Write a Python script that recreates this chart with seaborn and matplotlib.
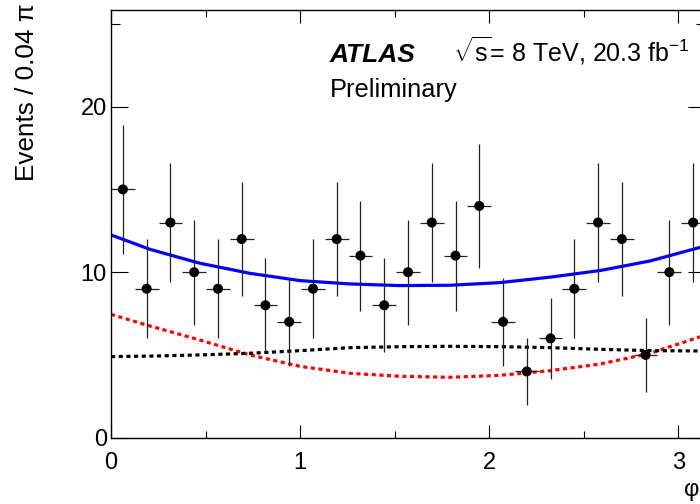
import numpy as np
import pandas as pd
import matplotlib
matplotlib.use("Agg")
import matplotlib.pyplot as plt
from matplotlib.ticker import FixedLocator
import seaborn as sns

# ---------------- data ----------------
bin_width = 0.04 * np.pi
n_bins = 25
bin_centers = (np.arange(n_bins) + 0.5) * bin_width
events = [15, 9, 13, 10, 9, 12, 8, 7, 9, 12, 11, 8, 10, 13, 11, 14, 7, 4, 6, 9, 13, 12, 5, 10, 13]
event_err = np.sqrt(events)

curve_x = [0.0, 0.206, 0.47, 0.735, 1.0, 1.265, 1.529, 1.794, 2.058, 2.323, 2.587, 2.852, 3.116, np.pi]
total_fit = [12.25, 11.38, 10.54, 9.93, 9.49, 9.29, 9.19, 9.21, 9.37, 9.70, 10.10, 10.68, 11.50, 11.60]
red_comp = [7.45, 6.75, 5.90, 5.00, 4.31, 3.89, 3.71, 3.65, 3.77, 4.05, 4.45, 5.10, 6.10, 6.25]
black_comp = [4.90, 4.93, 5.00, 5.10, 5.26, 5.44, 5.50, 5.52, 5.50, 5.44, 5.34, 5.26, 5.24, 5.23]

x_ticks = [0, 1, 2, 3]
y_ticks = [0, 10, 20]

# ---------------- style ----------------
sns.set_theme(style="ticks")
plt.rcParams["font.family"] = ["Liberation Sans", "DejaVu Sans"]
plt.rcParams["text.color"] = "black"
plt.rcParams["axes.labelcolor"] = "black"
plt.rcParams["xtick.color"] = "black"
plt.rcParams["ytick.color"] = "black"
plt.rcParams["mathtext.fontset"] = "custom"
plt.rcParams["mathtext.rm"] = "Liberation Sans"
plt.rcParams["mathtext.it"] = "Liberation Sans:italic"
plt.rcParams["mathtext.bf"] = "Liberation Sans:bold"

fig = plt.figure(figsize=(7.0, 5.04), dpi=100)
ax = fig.add_axes([111 / 700, 1 - 437.7 / 504, (705 - 111) / 700, (437.7 - 10) / 504])

df_curves = pd.DataFrame({"x": curve_x, "total": total_fit, "red": red_comp, "black": black_comp})
sns.lineplot(data=df_curves, x="x", y="total", ax=ax, color="#0000ff", lw=2.3, sort=False)
sns.lineplot(data=df_curves, x="x", y="red", ax=ax, color="#ff0000", lw=2.3, sort=False)
sns.lineplot(data=df_curves, x="x", y="black", ax=ax, color="black", lw=2.3, sort=False)
ax.lines[1].set_dashes([1.3, 1.1])
ax.lines[2].set_dashes([1.3, 1.1])

ax.errorbar(bin_centers, events, yerr=event_err, xerr=bin_width / 2, fmt="none",
            ecolor="#222222", elinewidth=0.9, capsize=0, zorder=3)
df_pts = pd.DataFrame({"x": bin_centers, "y": events})
sns.scatterplot(data=df_pts, x="x", y="y", ax=ax, color="black", s=52, edgecolor="none",
                zorder=4)

ax.set_xlim(0, np.pi)
ax.set_ylim(0, 25.84)
ax.set_xlabel("")
ax.set_ylabel("")
ax.xaxis.set_major_locator(FixedLocator(x_ticks))
ax.xaxis.set_minor_locator(FixedLocator([0.5, 1.5, 2.5]))
ax.yaxis.set_major_locator(FixedLocator(y_ticks))
ax.yaxis.set_minor_locator(FixedLocator([25]))
ax.set_xticklabels([str(t) for t in x_ticks])
ax.set_yticklabels([str(t) for t in y_ticks])

for s in ax.spines.values():
    s.set_visible(True)
    s.set_linewidth(1.0)
    s.set_color("black")

ax.tick_params(axis="both", which="both", direction="in", top=True, right=True,
               colors="black", labelcolor="black", width=0.8, labelsize=17)
ax.tick_params(axis="x", which="major", length=9.5, pad=10)
ax.tick_params(axis="x", which="minor", length=5)
ax.tick_params(axis="y", which="major", length=12.5, pad=3)
ax.tick_params(axis="y", which="minor", length=6.5)

# ---------------- texts ----------------
fig.text(330 / 700, 1 - 61.7 / 504, "ATLAS", fontsize=19, fontweight="bold", style="italic",
         ha="left", va="baseline", color="black")
fig.text(453 / 700, 1 - 61.7 / 504, r"$\sqrt{\mathrm{s}}$= 8 TeV, 20.3 fb$^{-1}$", fontsize=18,
         ha="left", va="baseline", color="black")
fig.text(330 / 700, 1 - 96.7 / 504, "Preliminary", fontsize=18.3, ha="left", va="baseline",
         color="black")

fig.text(27 / 700, 1 - 3 / 504, "Events / 0.04 π", rotation=90, fontsize=18.8,
         ha="center", va="top", color="black")
fig.text(684 / 700, 1 - 490 / 504, "φ", fontsize=17, ha="left", va="center", color="black")

fig.savefig("out.png", dpi=100)
